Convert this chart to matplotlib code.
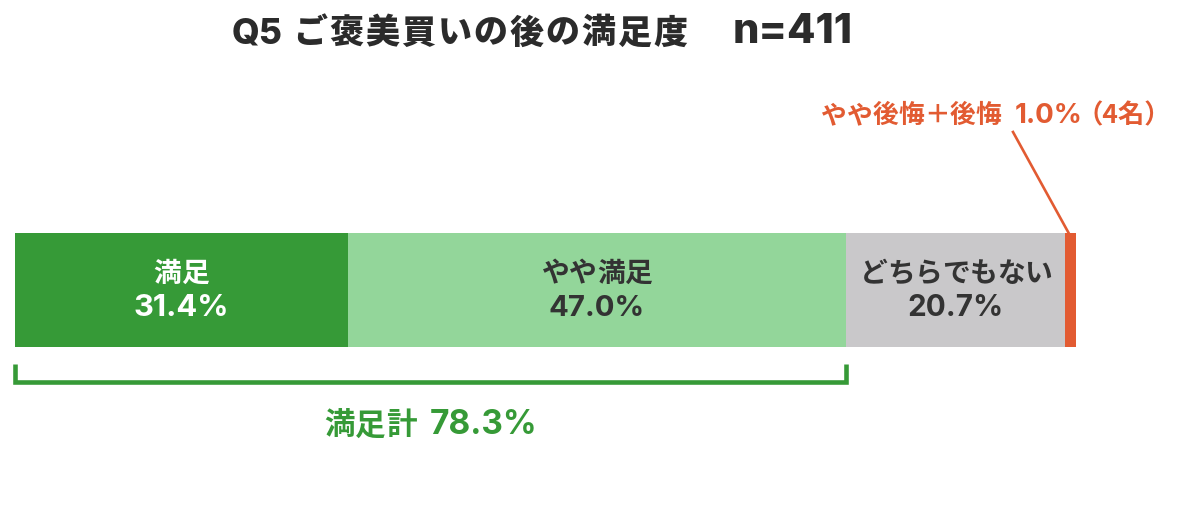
import matplotlib
matplotlib.use("Agg")
import matplotlib.pyplot as plt
from matplotlib.transforms import IdentityTransform
from matplotlib.font_manager import FontProperties

FAM = ['Noto Sans CJK JP', 'DejaVu Sans']
FAM_LAT = ['Inter', 'Liberation Sans', 'Noto Sans CJK JP']
plt.rcParams['font.family'] = FAM

# ---- data ----
title_parts = ["Q5", "ご褒美買いの後の満足度", "n=411"]
categories = ["満足", "やや満足", "どちらでもない", "やや後悔＋後悔"]
values = [31.4, 47.0, 20.7, 1.0]
respondents_low = 4
total_label = "満足計"
total_value = 78.3

colors = ["#369a37", "#93d69a", "#c9c8ca", "#e25b32"]
text_colors = ["white", "#333333", "#333333", None]
green = "#369a37"
orange = "#e25b32"

W, H = 1200, 510
fig = plt.figure(figsize=(12, 5.1), dpi=100)
ax = fig.add_axes([0, 0, 1, 1])
scale = 10.6
ax.set_xlim(-15 / scale, (W - 15) / scale)
ax.set_ylim(H, 0)
ax.axis("off")
renderer = fig.canvas.get_renderer()


def text_w(s, fs, weight, fam):
    prop = FontProperties(family=fam, weight=weight, size=fs)
    w, h, d = renderer.get_text_width_height_descent(s, prop, ismath=False)
    return w


def draw_line(cx, base_y, segs, color, weight="bold"):
    """segs: ('cjk', text, fs, pitch) | ('lat'/'sym', text, fs, target_w) | ('gap', px)"""
    items = []
    x = 0.0
    for seg in segs:
        if seg[0] == "gap":
            x += seg[1]
            continue
        if seg[0] == "cjk":
            _, s, fs, pitch = seg
            for ch in s:
                t = fig.text(0, 0, ch, fontsize=fs, fontweight=weight,
                             color=color, ha="center", va="baseline",
                             transform=IdentityTransform(), family=FAM)
                items.append((t, x + pitch / 2))
                x += pitch
        else:
            kind, s, fs, target = seg
            fam = FAM_LAT if kind == "lat" else FAM
            if target:
                nat = text_w(s, fs, weight, fam)
                fs = min(max(fs * target / nat, fs * 0.9), fs * 1.12)
            w = text_w(s, fs, weight, fam)
            t = fig.text(0, 0, s, fontsize=fs, fontweight=weight,
                         color=color, ha="left", va="baseline",
                         transform=IdentityTransform(), family=fam)
            items.append((t, x))
            x += w
    x0 = cx - x / 2
    for t, off in items:
        t.set_position((x0 + off, H - base_y))


# ---- bar ----
left = 0
for i, (cat, v) in enumerate(zip(categories, values)):
    ax.barh(291, v, left=left, height=114, color=colors[i], edgecolor="none")
    if text_colors[i]:
        cx = ax.transData.transform((left + v / 2, 0))[0]
        draw_line(cx, 282, [("cjk", cat, 20, 27.5)], text_colors[i])
        draw_line(cx, 316.5, [("lat", f"{v:.1f}%", 22.5, 96)], text_colors[i])
    left += v

# ---- bracket for satisfied total ----
end = values[0] + values[1]
ax.plot([0, 0, end, end], [365, 383, 383, 365], color=green, lw=3.3,
        solid_joinstyle="miter", solid_capstyle="butt")
bx = ax.transData.transform((end / 2, 0))[0]
draw_line(bx, 434.5, [("cjk", total_label, 22, 30.7), ("gap", 13),
                      ("lat", f"{total_value:.1f}%", 26.7, 107)], green)

# ---- callout for regret ----
xr = sum(values[:3]) + values[3] * 0.3
ax.plot([(1013 - 15) / scale, xr], [133, 234], color=orange, lw=1.9)
draw_line(996, 123, [("cjk", categories[3], 18.5, 25.8), ("gap", 13),
                     ("lat", f"{values[3]:.1f}%", 18.1, 68), ("gap", -6),
                     ("sym", f"（{respondents_low}名）", 19, 0)], orange)

# ---- title ----
draw_line(542, 43.5, [("lat", title_parts[0], 26.7, 51), ("gap", 10),
                      ("cjk", title_parts[1], 24.5, 36), ("gap", 44),
                      ("lat", title_parts[2], 26.7, 120)], "#2b2b2b",
          weight="heavy")

fig.savefig("out.png", dpi=100, facecolor="white")
